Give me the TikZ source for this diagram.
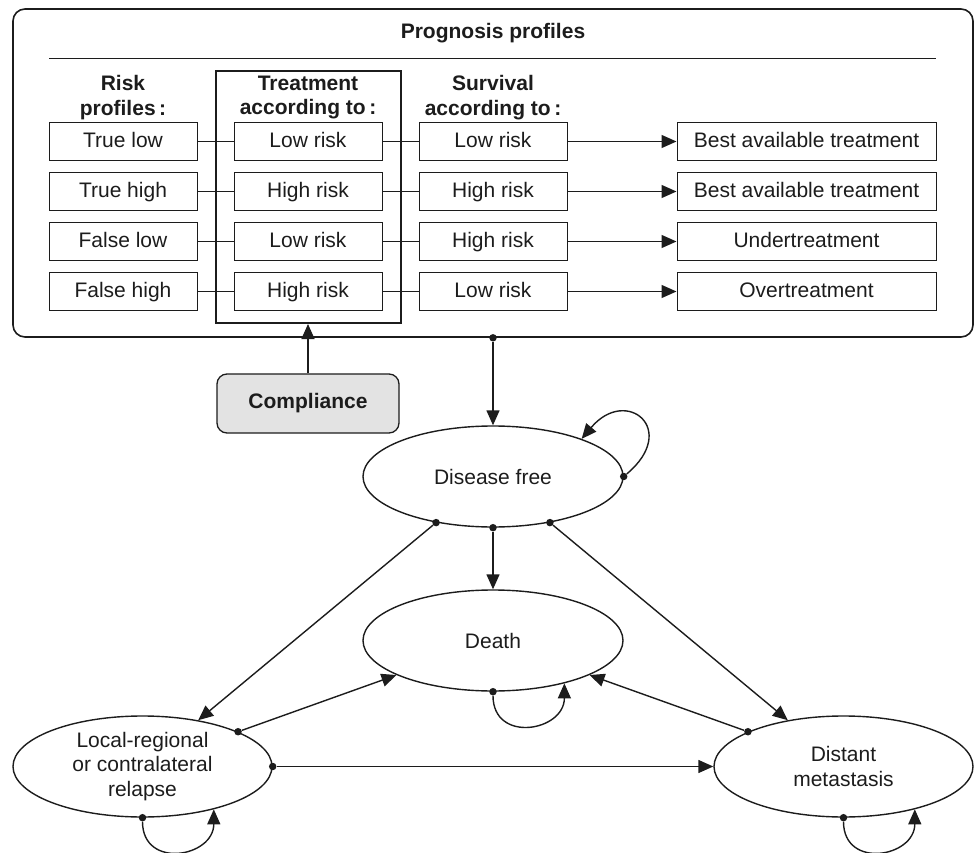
\documentclass[tikz,border=0pt]{standalone}
\usepackage{fontspec}
\setmainfont{Liberation Sans}
\usepackage{tikz}
\usetikzlibrary{positioning,arrows.meta,shapes.geometric}
\definecolor{inkgray}{HTML}{1C1C1C}
\definecolor{compgray}{HTML}{E3E3E3}

\begin{document}
\begin{tikzpicture}[x=1pt, y=1pt, font=\fontsize{21}{24.5}\selectfont,
    >={Triangle[length=15pt, width=13pt]}, color=inkgray,
    cell/.style={draw, line width=1pt, minimum width=148pt, minimum height=38pt,
                 inner sep=0pt, text height=15pt, text depth=3pt},
    head/.style={font=\fontsize{21}{24.5}\selectfont\bfseries, align=center},
    state/.style={ellipse, draw, line width=1.4pt, minimum width=260pt,
                  minimum height=101pt, inner sep=0pt, align=center},
    dot/.style={circle, fill, inner sep=0pt, minimum size=7.5pt},
    link/.style={line width=1.4pt}]
  \useasboundingbox (0,0) rectangle (975,-853);
  % prognosis box
  \node[draw, line width=1.6pt, rounded corners=12pt, minimum width=960pt,
        minimum height=328pt] (prog) at (493,-173) {};
  \node[head] (title) at (493,-33) {Prognosis profiles};
  \draw[line width=1pt] (49,-59) -- (936,-59);
  \node[draw, line width=2pt, minimum width=185pt, minimum height=252pt]
        (treat) at (308.5,-197) {};
  \node[head] (hrisk) at (123,-97.5) {Risk\\profiles\,:};
  \node[head] (htrt) at (308,-97.5) {Treatment\\according to\,:};
  \node[head] (hsurv) at (493,-97.5) {Survival\\according to\,:};
  \foreach \r/\rk/\tr/\sv/\rs in {1/True low/Low risk/Low risk/Best available treatment,
      2/True high/High risk/High risk/Best available treatment,
      3/False low/Low risk/High risk/Undertreatment,
      4/False high/High risk/Low risk/Overtreatment} {
    \node[cell] (risk\r) at (123,-91.5-50*\r) {\rk};
    \node[cell] (trt\r) at (308,-91.5-50*\r) {\tr};
    \node[cell] (surv\r) at (493,-91.5-50*\r) {\sv};
    \node[cell, minimum width=259pt] (res\r) at (806.5,-91.5-50*\r) {\rs};
    \draw[line width=1pt] (risk\r) -- (trt\r);
    \draw[line width=1pt] (trt\r) -- (surv\r);
    \draw[link, ->] (surv\r) -- (res\r);
  }
  % compliance
  \node[draw, line width=1.3pt, fill=compgray, rounded corners=10pt,
        minimum width=182pt, minimum height=59pt, font=\fontsize{21}{24.5}\selectfont\bfseries]
        (comp) at (308,-403.5) {Compliance};
  \draw[link, ->] (comp.north) -- (comp.north |- treat.south);
  % states
  \node[state] (df) at (493,-476.5) {Disease free};
  \node[state] (death) at (493,-640.5) {Death};
  \node[state, minimum width=259pt] (lr) at (142.5,-766.5)
        {Local-regional\\or contralateral\\relapse};
  \node[state, minimum width=259pt] (dm) at (843.5,-766.5) {Distant\\metastasis};
  \node[dot] (progS) at (prog.south) {};
  \node[dot] (dfE) at (df.east) {};
  \node[dot] (dfSW) at (df.-141) {};
  \node[dot] (dfS) at (df.south) {};
  \node[dot] (dfSE) at (df.-39) {};
  \node[dot] (deathS) at (death.south) {};
  \node[dot] (lrNE) at (lr.20) {};
  \node[dot] (lrE) at (lr.east) {};
  \node[dot] (lrS) at (lr.south) {};
  \node[dot] (dmNW) at (dm.160) {};
  \node[dot] (dmS) at (dm.south) {};
  \draw[link, ->] (progS) -- (df);
  \draw[link, ->] (dfE) to[out=40, in=50, looseness=3.1] (df.23);
  \draw[link, ->] (dfSW) -- (lr);
  \draw[link, ->] (dfS) -- (death);
  \draw[link, ->] (dfSE) -- (dm);
  \draw[link, ->] (lrNE) -- (death);
  \draw[link, ->] (lrE) -- (dm);
  \draw[link, ->] (dmNW) -- (death);
  \draw[link, ->] (lrS) to[out=-90, in=-90, looseness=1.7] (lr.-31);
  \draw[link, ->] (deathS) to[out=-90, in=-90, looseness=1.7] (death.-31);
  \draw[link, ->] (dmS) to[out=-90, in=-90, looseness=1.7] (dm.-31);
\end{tikzpicture}
\end{document}
